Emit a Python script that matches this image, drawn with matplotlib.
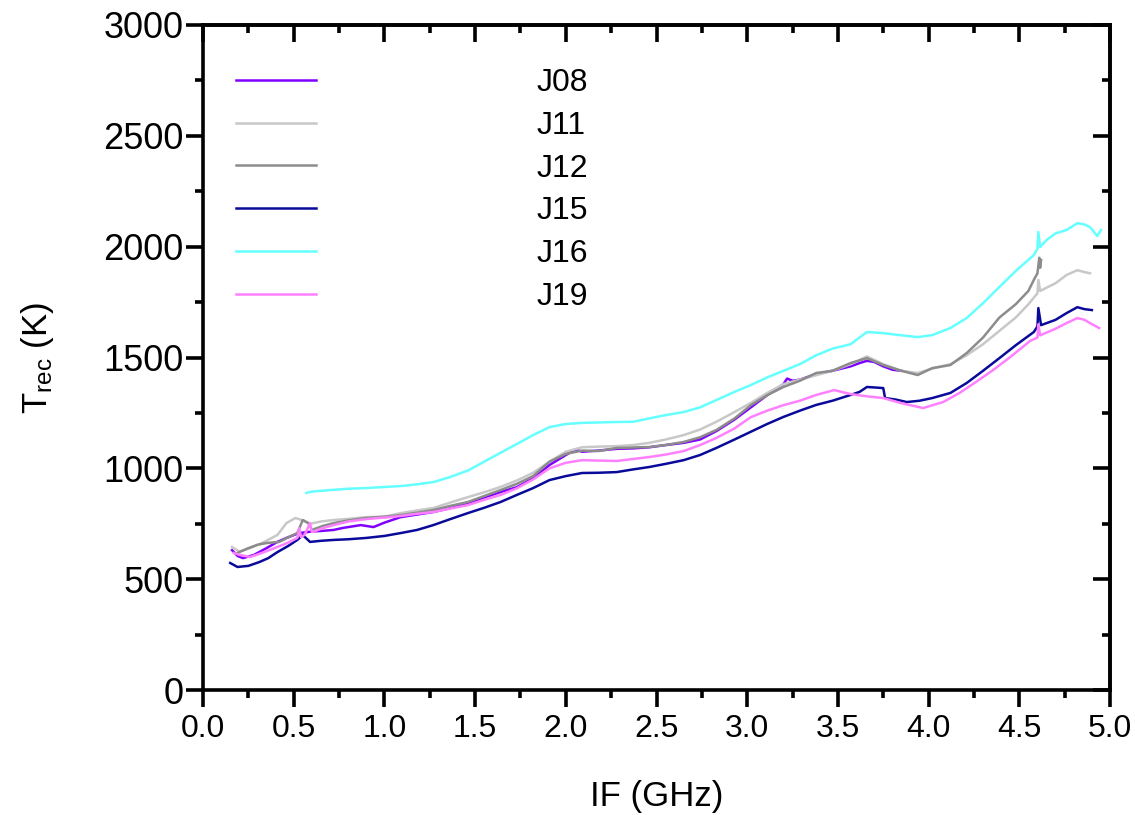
import matplotlib
matplotlib.use("Agg")
import matplotlib.pyplot as plt
from matplotlib.ticker import MultipleLocator

plt.rcParams['font.family'] = ['Liberation Sans', 'DejaVu Sans']
plt.rcParams['mathtext.fontset'] = 'custom'
plt.rcParams['mathtext.rm'] = 'Liberation Sans'
plt.rcParams['mathtext.it'] = 'Liberation Sans'

# ---------------- data ----------------
j08_x = [0.16,0.19,0.22,0.28,0.35,0.41,0.46,0.53,0.60,0.66,0.72,0.77,0.87,0.94,1.00,1.09,1.16,1.27,1.36,1.46,1.55,1.64,1.73,1.82,1.91,2.00,2.05,2.09,2.18,2.28,2.37,2.46,2.55,2.65,2.74,2.83,2.93,3.02,3.11,3.20,3.22,3.25,3.29,3.38,3.47,3.57,3.62,3.66,3.70,3.75,3.80,3.85]
j08_y = [631,605,595,609,640,668,686,708,715,718,722,731,744,735,755,780,789,803,820,843,868,893,915,955,1015,1060,1085,1075,1080,1088,1090,1095,1105,1115,1130,1168,1220,1275,1330,1380,1405,1395,1400,1425,1440,1460,1475,1485,1480,1460,1445,1440]

j11_x = [0.16,0.20,0.26,0.33,0.41,0.46,0.51,0.55,0.59,0.65,0.72,0.80,0.90,1.00,1.09,1.18,1.27,1.36,1.46,1.55,1.64,1.73,1.82,1.91,2.00,2.09,2.18,2.28,2.37,2.46,2.55,2.65,2.74,2.83,2.93,3.02,3.11,3.20,3.29,3.38,3.47,3.57,3.66,3.75,3.85,3.94,4.02,4.12,4.21,4.30,4.39,4.48,4.55,4.60,4.605,4.615,4.65,4.70,4.76,4.82,4.86,4.89]
j11_y = [645,625,640,665,699,753,776,765,750,760,767,772,780,782,798,810,821,845,870,892,916,945,980,1030,1075,1095,1098,1100,1105,1115,1130,1150,1175,1210,1254,1295,1340,1380,1400,1420,1440,1470,1505,1470,1440,1430,1450,1470,1510,1560,1620,1680,1740,1790,1850,1800,1815,1835,1872,1894,1885,1880]

j12_x = [0.19,0.25,0.30,0.35,0.42,0.46,0.52,0.55,0.58,0.60,0.66,0.72,0.80,0.90,1.00,1.09,1.18,1.27,1.36,1.46,1.55,1.64,1.73,1.82,1.91,2.00,2.09,2.18,2.28,2.37,2.46,2.55,2.65,2.74,2.83,2.93,3.02,3.11,3.20,3.29,3.38,3.47,3.57,3.66,3.75,3.85,3.94,4.02,4.12,4.21,4.30,4.39,4.48,4.55,4.58,4.60,4.61,4.615,4.62]
j12_y = [618,640,655,663,668,685,708,767,753,722,740,753,765,776,782,789,800,812,830,848,875,902,930,965,1030,1065,1080,1078,1092,1094,1096,1105,1119,1140,1173,1225,1285,1330,1367,1395,1430,1440,1475,1497,1466,1440,1421,1452,1466,1520,1590,1680,1740,1800,1850,1880,1950,1905,1940]

j15_x = [0.15,0.19,0.25,0.31,0.36,0.41,0.47,0.52,0.55,0.59,0.65,0.72,0.80,0.90,1.00,1.09,1.18,1.27,1.36,1.46,1.55,1.64,1.73,1.82,1.91,2.00,2.09,2.18,2.28,2.37,2.46,2.55,2.65,2.74,2.83,2.93,3.02,3.11,3.20,3.29,3.38,3.47,3.57,3.62,3.66,3.70,3.75,3.76,3.82,3.88,3.95,4.02,4.12,4.21,4.30,4.39,4.48,4.58,4.60,4.605,4.62,4.70,4.76,4.82,4.86,4.90]
j15_y = [573,555,560,577,595,622,650,677,699,668,673,677,680,686,695,708,722,744,770,798,822,848,880,911,947,965,979,980,983,995,1006,1020,1037,1060,1092,1130,1165,1200,1232,1260,1286,1305,1331,1345,1367,1365,1362,1317,1310,1299,1305,1317,1340,1385,1440,1497,1555,1615,1640,1723,1646,1670,1700,1727,1718,1714]

j16_x = [0.57,0.60,0.70,0.80,0.90,1.00,1.09,1.18,1.27,1.36,1.46,1.55,1.64,1.73,1.82,1.91,2.00,2.09,2.18,2.28,2.37,2.46,2.55,2.65,2.74,2.83,2.93,3.02,3.11,3.20,3.29,3.38,3.47,3.57,3.66,3.75,3.84,3.94,4.02,4.12,4.21,4.30,4.39,4.48,4.58,4.60,4.605,4.615,4.65,4.70,4.76,4.82,4.86,4.89,4.93,4.95]
j16_y = [889,895,902,908,911,916,920,928,938,960,990,1030,1070,1110,1150,1186,1200,1205,1207,1209,1210,1225,1240,1254,1275,1308,1345,1376,1410,1440,1470,1510,1540,1560,1615,1610,1601,1592,1601,1633,1678,1745,1818,1890,1962,1990,2066,1998,2030,2060,2075,2106,2100,2088,2048,2075]

j19_x = [0.17,0.20,0.26,0.33,0.41,0.47,0.52,0.53,0.54,0.56,0.59,0.60,0.61,0.66,0.72,0.80,0.90,1.00,1.09,1.18,1.27,1.36,1.46,1.55,1.64,1.73,1.82,1.91,2.00,2.09,2.18,2.28,2.37,2.46,2.55,2.65,2.74,2.83,2.93,3.02,3.11,3.20,3.29,3.38,3.48,3.57,3.66,3.75,3.85,3.97,4.08,4.17,4.26,4.35,4.45,4.56,4.60,4.605,4.615,4.70,4.76,4.82,4.86,4.89,4.94]
j19_y = [618,610,600,620,645,665,686,731,690,700,753,713,715,730,744,760,771,778,785,795,803,818,834,858,880,910,950,1000,1025,1037,1035,1033,1042,1051,1062,1078,1105,1137,1180,1231,1260,1285,1305,1331,1353,1335,1325,1317,1294,1272,1299,1340,1389,1440,1502,1575,1590,1650,1600,1630,1655,1678,1670,1655,1633]

labels = ['J08', 'J11', 'J12', 'J15', 'J16', 'J19']
colors = ['#8000FF', '#C8C8C8', '#8C8C8C', '#0A0A9A', '#66FFFF', '#FF80FF']
xs = [j08_x, j11_x, j12_x, j15_x, j16_x, j19_x]
ys = [j08_y, j11_y, j12_y, j15_y, j16_y, j19_y]

x_ticks = [0.0, 0.5, 1.0, 1.5, 2.0, 2.5, 3.0, 3.5, 4.0, 4.5, 5.0]
y_ticks = [0, 500, 1000, 1500, 2000, 2500, 3000]

# ---------------- figure ----------------
fig = plt.figure(figsize=(11.35, 8.15), dpi=100)
ax = fig.add_axes([203/1135, 1-690/815, (1110-203)/1135, (690-25)/815])

for x, y, c, lab in zip(xs, ys, colors, labels):
    ax.plot(x, y, color=c, lw=1.8, label=lab)

ax.set_xlim(0, 5)
ax.set_ylim(0, 3000)
ax.set_xticks(x_ticks)
ax.set_yticks(y_ticks)
ax.set_xticklabels([f"{v:.1f}" for v in x_ticks], fontsize=23)
ax.set_yticklabels([str(v) for v in y_ticks], fontsize=26)
ax.xaxis.set_minor_locator(MultipleLocator(0.25))
ax.yaxis.set_minor_locator(MultipleLocator(250))

for s in ax.spines.values():
    s.set_linewidth(2.6)

ax.tick_params(which='major', direction='out', length=12, width=2.6)
ax.tick_params(which='minor', direction='out', length=6, width=2.6)
ax.tick_params(axis='y', pad=2)
ax.tick_params(axis='x', pad=5)

secx = ax.secondary_xaxis('top')
secx.set_xticks(x_ticks)
secx.xaxis.set_minor_locator(MultipleLocator(0.25))
secx.tick_params(which='major', direction='in', length=12, width=2.6, labeltop=False)
secx.tick_params(which='minor', direction='in', length=6, width=2.6)
secx.spines['top'].set_linewidth(2.6)

secy = ax.secondary_yaxis('right')
secy.set_yticks(y_ticks)
secy.yaxis.set_minor_locator(MultipleLocator(250))
secy.tick_params(which='major', direction='in', length=12, width=2.6, labelright=False)
secy.tick_params(which='minor', direction='in', length=6, width=2.6)
secy.spines['right'].set_linewidth(2.6)

ax.set_xlabel('IF (GHz)', fontsize=25, labelpad=26)
ax.set_ylabel(r'T$_{\mathrm{rec}}$ (K)', fontsize=25, labelpad=34)

ax.legend(loc='upper left', bbox_to_anchor=((236-203)/907, (690-68)/665),
          frameon=False, fontsize=23, handlelength=2.5, handletextpad=6.9,
          labelspacing=0.40, borderpad=0, borderaxespad=0)

fig.savefig('out.png', dpi=100)
